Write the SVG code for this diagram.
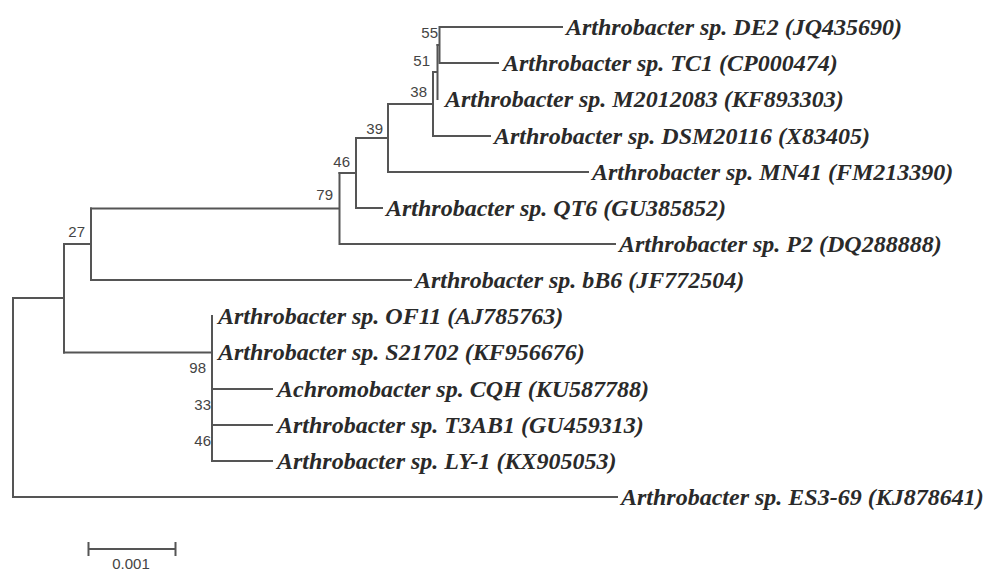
<svg xmlns="http://www.w3.org/2000/svg" width="986" height="572" viewBox="0 0 986 572">
<style>
.br{fill:none;stroke:#555;stroke-width:2;stroke-linecap:square}
.lf{font-family:"Liberation Serif","Times New Roman",serif;font-weight:bold;font-style:italic;font-size:24px;fill:#2a2a2a}
.bs{font-family:"Liberation Sans",Arial,sans-serif;font-size:15px;fill:#444;text-anchor:end}
.sc{font-family:"Liberation Sans",Arial,sans-serif;font-size:15px;fill:#444;text-anchor:middle}
</style>
<rect width="986" height="572" fill="#fff"/>
<g id="connectors">
<path class="br" d="M13,298 V497 H617"/>
<path class="br" d="M13,298 H64 M64,244 V352.5"/>
<path class="br" d="M64,244 H91 M91,208.5 V280 H411"/>
<path class="br" d="M91,208.5 H339.5 M339.5,173 V244 H615"/>
<path class="br" d="M339.5,173 H356 M356,138 V208 H382"/>
<path class="br" d="M356,138 H388 M388,104 V172 H588"/>
<path class="br" d="M388,104 H433 M433,72 V136 H490"/>
<path class="br" d="M433,72 H437.5 M437.5,45 V99"/>
<path class="br" d="M437.5,45 H439.5 M439.5,27 V63 M439.5,27 H562 M439.5,63 H498"/>
<path class="br" d="M64,352.5 H212 M212,316 V461 M212,389 H272 M212,425 H272 M212,461 H272"/>
</g>
<g id="support">
<text class="bs" x="438" y="38">55</text>
<text class="bs" x="430" y="66">51</text>
<text class="bs" x="427" y="97">38</text>
<text class="bs" x="383" y="134">39</text>
<text class="bs" x="350" y="167">46</text>
<text class="bs" x="333" y="200">79</text>
<text class="bs" x="85" y="237">27</text>
<text class="bs" x="206" y="373">98</text>
<text class="bs" x="211" y="410">33</text>
<text class="bs" x="211" y="446">46</text>
</g>
<g id="leaf-DE2"><text class="lf" x="566" y="35">Arthrobacter sp. DE2 (JQ435690)</text></g>
<g id="leaf-TC1"><text class="lf" x="503" y="71">Arthrobacter sp. TC1 (CP000474)</text></g>
<g id="leaf-M2012083"><text class="lf" x="445" y="107">Arthrobacter sp. M2012083 (KF893303)</text></g>
<g id="leaf-DSM20116"><text class="lf" x="494" y="144">Arthrobacter sp. DSM20116 (X83405)</text></g>
<g id="leaf-MN41"><text class="lf" x="592" y="180">Arthrobacter sp. MN41 (FM213390)</text></g>
<g id="leaf-QT6"><text class="lf" x="386" y="216">Arthrobacter sp. QT6 (GU385852)</text></g>
<g id="leaf-P2"><text class="lf" x="619" y="252">Arthrobacter sp. P2 (DQ288888)</text></g>
<g id="leaf-bB6"><text class="lf" x="415" y="288">Arthrobacter sp. bB6 (JF772504)</text></g>
<g id="leaf-OF11"><text class="lf" x="218" y="324">Arthrobacter sp. OF11 (AJ785763)</text></g>
<g id="leaf-S21702"><text class="lf" x="218" y="360">Arthrobacter sp. S21702 (KF956676)</text></g>
<g id="leaf-CQH"><text class="lf" x="277" y="397">Achromobacter sp. CQH (KU587788)</text></g>
<g id="leaf-T3AB1"><text class="lf" x="277" y="433">Arthrobacter sp. T3AB1 (GU459313)</text></g>
<g id="leaf-LY-1"><text class="lf" x="277" y="469">Arthrobacter sp. LY-1 (KX905053)</text></g>
<g id="leaf-ES3-69"><text class="lf" x="621" y="505">Arthrobacter sp. ES3-69 (KJ878641)</text></g>
<g id="scale">
<path class="br" d="M88.5,549 H175.5 M88.5,543 V555 M175.5,543 V555"/>
<text class="sc" x="131" y="569">0.001</text>
</g>
</svg>
